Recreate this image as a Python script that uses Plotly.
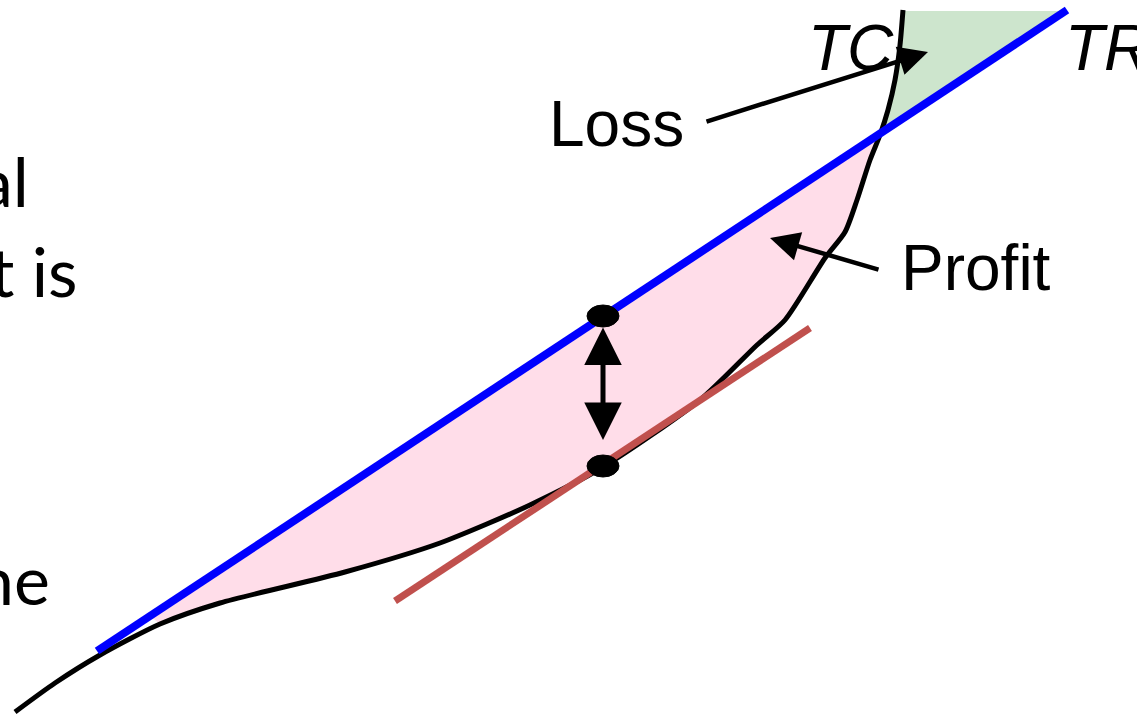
import numpy as np
import plotly.graph_objects as go

# ---- data (pixel-like units; y grows downward) ----
tr_x = [97, 1067]
tr_y = [651, 10]

tc_x = [15, 55, 100, 160, 220, 345, 440, 530, 603, 700, 757, 785, 825, 845, 857, 870, 880, 888, 895, 900, 903]
tc_y = [712, 683, 655, 624, 603, 572, 543, 505, 467, 400, 345, 320, 258, 232, 200, 160, 135, 110, 80, 45, 10]

tan_x = [395, 810]
tan_y = [601, 328]

dot_x = [603, 603]
dot_y = [316, 466]

pink_start_x = 150
green_top_y = 11

fig = go.Figure()

def tr_at_x(x):
    return tr_y[0] + (tr_y[1] - tr_y[0]) * (x - tr_x[0]) / (tr_x[1] - tr_x[0])

def tr_at_y(y):
    return tr_x[0] + (tr_x[1] - tr_x[0]) * (y - tr_y[0]) / (tr_y[1] - tr_y[0])

tcx = np.array(tc_x, float)
tcy = np.array(tc_y, float)
diff = tcy - np.array([tr_at_x(v) for v in tcx])
ix = None
for i in range(len(diff) - 1):
    if i > 3 and diff[i] > 0 and diff[i + 1] <= 0:
        ix = i
        break
t = diff[ix] / (diff[ix] - diff[ix + 1])
cx = tcx[ix] + t * (tcx[ix + 1] - tcx[ix])
cy = tcy[ix] + t * (tcy[ix + 1] - tcy[ix])

# pink profit area
mask = (tcx >= pink_start_x) & (np.arange(len(tcx)) <= ix)
px = [pink_start_x, cx] + list(tcx[mask][::-1])
py = [tr_at_x(pink_start_x), cy] + list(tcy[mask][::-1])
fig.add_trace(go.Scatter(x=px, y=py, fill="toself", fillcolor="rgb(255,221,233)",
                         mode="none", hoverinfo="skip"))

# green loss area
gx = [cx] + list(tcx[ix + 1:-1]) + [tcx[-1], tr_at_y(green_top_y) - 6, cx]
gy = [cy] + list(tcy[ix + 1:-1]) + [green_top_y, green_top_y, cy]
fig.add_trace(go.Scatter(x=gx, y=gy, fill="toself", fillcolor="rgb(205,229,205)",
                         mode="none", hoverinfo="skip"))

# TC curve
fig.add_trace(go.Scatter(x=tc_x, y=tc_y, mode="lines",
                         line=dict(color="black", width=5, shape="spline", smoothing=0.7),
                         hoverinfo="skip"))
# tangent
fig.add_trace(go.Scatter(x=tan_x, y=tan_y, mode="lines", line=dict(color="#C0504D", width=7), hoverinfo="skip"))
# TR line
fig.add_trace(go.Scatter(x=tr_x, y=tr_y, mode="lines", line=dict(color="#0000FF", width=8), hoverinfo="skip"))

# dots (ellipses)
shapes = []
for x, y in zip(dot_x, dot_y):
    shapes.append(dict(type="circle", xref="x", yref="y", x0=x - 16, x1=x + 16, y0=y - 11, y1=y + 11,
                       fillcolor="black", line=dict(color="black", width=1)))

anns = []
# double arrow between the two dots
anns.append(dict(x=dot_x[0], y=dot_y[1] - 26, ax=dot_x[0], ay=dot_y[0] + 10,
                 xref="x", yref="y", axref="x", ayref="y", arrowside="end+start",
                 showarrow=True, arrowhead=2, arrowsize=1.5, arrowwidth=5, arrowcolor="black", text=""))
# Loss arrow
anns.append(dict(x=928, y=52, ax=705, ay=122, xref="x", yref="y", axref="x", ayref="y",
                 showarrow=True, arrowhead=2, arrowsize=1.3, arrowwidth=4.5, arrowcolor="black", text=""))
# Profit arrow
anns.append(dict(x=770, y=238, ax=880, ay=270, xref="x", yref="y", axref="x", ayref="y",
                 showarrow=True, arrowhead=2, arrowsize=1.3, arrowwidth=4.5, arrowcolor="black", text=""))

f_arial = "Liberation Sans, Arial, sans-serif"
f_cal = "Lato, Carlito, Calibri, sans-serif"
labels = [
    ("<i>TC</i>", 851, 48, f_arial, 64, "center"),
    ("<i>TR</i>", 1063, 48, f_arial, 64, "left"),
    ("Loss", 616, 124, f_arial, 64, "center"),
    ("Profit", 976, 268, f_arial, 64, "center"),
    ("al", 31, 180, f_cal, 68, "right"),
    ("t is", 80, 270, f_cal, 68, "right"),
    ("ne", 52, 578, f_cal, 68, "right"),
]
for txt, x, y, fam, sz, xa in labels:
    anns.append(dict(x=x, y=y, xref="x", yref="y", text=txt, showarrow=False, xanchor=xa, yanchor="middle",
                     font=dict(family=fam, size=sz, color="black")))

fig.update_layout(
    width=1137, height=715, margin=dict(l=0, r=0, t=0, b=0),
    paper_bgcolor="white", plot_bgcolor="white", showlegend=False,
    xaxis=dict(range=[0, 1137], visible=False, fixedrange=True),
    yaxis=dict(range=[715, 0], visible=False, fixedrange=True),
    shapes=shapes, annotations=anns,
)
fig.write_html("out.html", config={"displayModeBar": False},
               post_script="document.body.style.margin='0';document.body.style.overflow='hidden';")
